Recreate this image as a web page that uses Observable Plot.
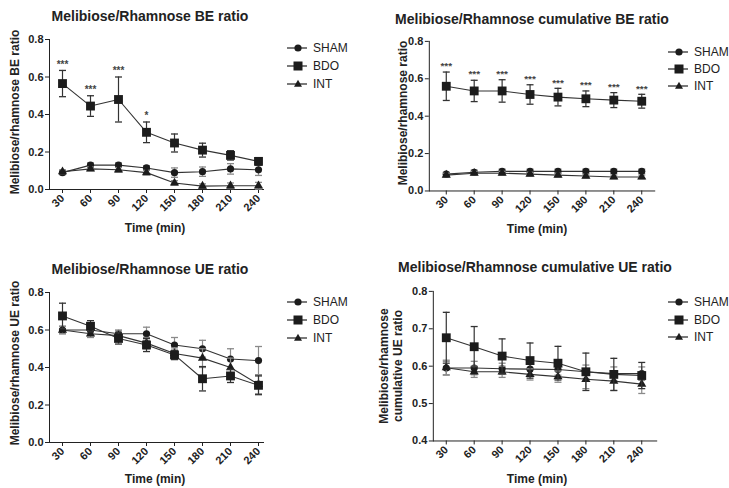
<!DOCTYPE html>
<html><head><meta charset="utf-8">
<script src="https://cdn.jsdelivr.net/npm/d3@7"></script>
<script src="https://cdn.jsdelivr.net/npm/@observablehq/plot@0.6"></script>
<style>
body{margin:0;background:#fff;}
#root{position:relative;width:729px;height:488px;overflow:hidden;font-family:"Liberation Sans",Arial,sans-serif;color:#222;}
.abs{position:absolute;white-space:nowrap;}
.title{font-weight:bold;font-size:14px;transform:translate(-50%,-50%);}
.xlab{font-weight:bold;font-size:12px;transform:translate(-50%,-50%);}
.ylab{font-weight:bold;font-size:12px;line-height:14px;text-align:center;transform:translate(-50%,-50%) rotate(-90deg);}
.leg{font-size:12px;display:flex;align-items:center;transform:translateY(-50%);}
.leg svg{margin-right:6px;}
</style>
</head><body><div id="root"></div>
<script>
// ---- data ----
const times = ["30","60","90","120","150","180","210","240"];
const groups = ["SHAM","BDO","INT"];

// Melibiose/Rhamnose BE ratio
const beSham    = [0.090,0.130,0.130,0.115,0.090,0.095,0.110,0.105];
const beShamSem = [0.010,0.012,0.012,0.012,0.025,0.025,0.028,0.030];
const beBdo     = [0.565,0.445,0.480,0.305,0.248,0.210,0.182,0.150];
const beBdoSem  = [0.070,0.055,0.120,0.055,0.048,0.037,0.025,0.020];
const beInt     = [0.095,0.110,0.105,0.090,0.035,0.018,0.020,0.020];
const beIntSem  = [0.010,0.010,0.012,0.012,0.012,0.012,0.015,0.018];
const beStars   = ["***","***","***","*","","","",""];

// Melibiose/Rhamnose cumulative BE ratio
const cbeSham    = [0.090,0.100,0.105,0.105,0.105,0.105,0.105,0.105];
const cbeShamSem = [0.010,0.012,0.012,0.012,0.012,0.012,0.012,0.012];
const cbeBdo     = [0.560,0.535,0.535,0.516,0.502,0.493,0.486,0.480];
const cbeBdoSem  = [0.076,0.057,0.060,0.052,0.047,0.042,0.040,0.037];
const cbeInt     = [0.085,0.095,0.095,0.090,0.085,0.080,0.075,0.075];
const cbeIntSem  = [0.010,0.010,0.010,0.010,0.010,0.010,0.010,0.010];
const cbeStars   = ["***","***","***","***","***","***","***","***"];

// Melibiose/Rhamnose UE ratio
const ueSham    = [0.600,0.600,0.580,0.580,0.520,0.500,0.445,0.437];
const ueShamSem = [0.020,0.030,0.020,0.035,0.040,0.045,0.055,0.075];
const ueBdo     = [0.675,0.620,0.555,0.520,0.467,0.340,0.355,0.305];
const ueBdoSem  = [0.068,0.030,0.030,0.035,0.025,0.065,0.035,0.050];
const ueInt     = [0.600,0.580,0.570,0.530,0.475,0.450,0.400,0.310];
const ueIntSem  = [0.020,0.020,0.025,0.030,0.030,0.050,0.050,0.050];
const ueStars   = ["","","","","","","",""];

// Melibiose/Rhamnose cumulative UE ratio
const cueSham    = [0.595,0.595,0.593,0.592,0.591,0.585,0.580,0.580];
const cueShamSem = [0.018,0.018,0.015,0.015,0.015,0.018,0.018,0.018];
const cueBdo     = [0.676,0.652,0.627,0.615,0.608,0.585,0.578,0.575];
const cueBdoSem  = [0.068,0.054,0.046,0.047,0.045,0.050,0.043,0.035];
const cueInt     = [0.596,0.585,0.585,0.578,0.572,0.565,0.560,0.552];
const cueIntSem  = [0.020,0.015,0.015,0.015,0.015,0.025,0.025,0.025];
const cueStars   = ["","","","","","","",""];

// ---- layout ----
const panels = [
  {title:"Melibiose/Rhamnose BE ratio", ylab:["Melibiose/rhamnose BE ratio"], yDomain:[0,0.8],
   series:[[beSham,beShamSem],[beBdo,beBdoSem],[beInt,beIntSem]], stars:beStars,
   left:0, top:0, fx0:49, fx1:263, fy0:39, fy1:189, x30:62, x240:258,
   tpos:[150,16], xpos:[155,228], ypos:[15,112], lx:287, ly:[48,66,84]},
  {title:"Melibiose/Rhamnose cumulative BE ratio", ylab:["Melibiose/rhamnose ratio"], yDomain:[0,0.8],
   series:[[cbeSham,cbeShamSem],[cbeBdo,cbeBdoSem],[cbeInt,cbeIntSem]], stars:cbeStars,
   left:365, top:0, fx0:429, fx1:655, fy0:41, fy1:191, x30:445, x240:642,
   tpos:[532,19], xpos:[537,229], ypos:[403,113], lx:668, ly:[52,69,86]},
  {title:"Melibiose/Rhamnose UE ratio", ylab:["Melibiose/rhamnose UE ratio"], yDomain:[0,0.8],
   series:[[ueSham,ueShamSem],[ueBdo,ueBdoSem],[ueInt,ueIntSem]], stars:ueStars,
   left:0, top:250, fx0:49, fx1:263, fy0:292, fy1:442, x30:62, x240:258,
   tpos:[150,269], xpos:[155,479], ypos:[15,363], lx:287, ly:[302,320,338]},
  {title:"Melibiose/Rhamnose cumulative UE ratio", ylab:["Melibiose/rhamnose","cumulative UE ratio"], yDomain:[0.4,0.8],
   series:[[cueSham,cueShamSem],[cueBdo,cueBdoSem],[cueInt,cueIntSem]], stars:cueStars,
   left:365, top:250, fx0:433, fx1:657, fy0:291, fy1:441, x30:446, x240:643,
   tpos:[535,267], xpos:[537,479], ypos:[391,366], lx:668, ly:[302,320,337]}
];

const symbols = {SHAM:"circle", BDO:"square", INT:"triangle"};
const radius = {SHAM:3.6, BDO:5.0, INT:3.4};
const capSymbol = {draw(ctx, size){ const w = Math.sqrt(size/Math.PI); ctx.moveTo(-w,0); ctx.lineTo(w,0); }};
const ink = "#1c1c1c";

const root = document.getElementById("root");
function addDiv(cls, x, y, html){
  const d = document.createElement("div");
  d.className = "abs " + cls;
  d.style.left = x + "px"; d.style.top = y + "px";
  d.innerHTML = html;
  root.appendChild(d);
  return d;
}

for (const p of panels) {
  const W = 365, H = 245;
  const rows = [];
  groups.forEach((g, gi) => {
    const [m, s] = p.series[gi];
    times.forEach((t, i) => rows.push({t, group:g, mean:m[i], lo:m[i]-s[i], hi:m[i]+s[i]}));
  });
  const starRows = times.map((t, i) => ({t, y: p.series[1][0][i] + p.series[1][1][i], s: p.stars[i]})).filter(d => d.s);
  const step = (p.x240 - p.x30) / 7, total = p.fx1 - p.fx0;
  const pad = (total / step - 7) / 2;
  const align = (p.x30 - p.fx0) / (total - 7 * step);
  const marks = [];
  for (const g of ["SHAM","INT","BDO"]) {
    const d = rows.filter(r => r.group === g);
    const ec = g === "BDO" ? "#333" : "#8a8a8a";
    marks.push(Plot.ruleX(d, {x:"t", y1:"lo", y2:"hi", stroke:ec, strokeWidth:1.2}));
    marks.push(Plot.dot(d, {x:"t", y:"hi", symbol:capSymbol, r:3.5, fill:"none", stroke:ec, strokeWidth:1.3}));
    marks.push(Plot.dot(d, {x:"t", y:"lo", symbol:capSymbol, r:3.5, fill:"none", stroke:ec, strokeWidth:1.3}));
    marks.push(Plot.line(d, {x:"t", y:"mean", stroke:"#333", strokeWidth:1.1}));
    marks.push(Plot.dot(d, {x:"t", y:"mean", symbol:symbols[g], r:radius[g], fill:ink, stroke:"none"}));
  }
  marks.push(Plot.text(starRows, {x:"t", y:"y", text:"s", dy:-6, fontSize:10, fill:"#444", fontWeight:"bold"}));
  const chart = Plot.plot({
    width: W, height: H,
    marginLeft: p.fx0 - p.left, marginRight: p.left + W - p.fx1,
    marginTop: p.fy0 - p.top, marginBottom: p.top + H - p.fy1,
    style: {fontFamily:"'Liberation Sans', Arial, sans-serif", fontSize:"11px", fontWeight:"bold", color:"#222", background:"transparent", overflow:"visible"},
    x: {type:"point", domain: times, padding: pad, align: align, line:true, tickRotate:-45, tickSize:4, tickPadding:3, label:null},
    y: {domain: p.yDomain, ticks:4, tickFormat: d3.format(".1f"), line:true, tickSize:4, tickPadding:2, label:null},
    marks
  });
  const holder = document.createElement("div");
  holder.className = "abs";
  holder.style.left = p.left + "px"; holder.style.top = p.top + "px";
  holder.appendChild(chart);
  root.appendChild(holder);

  addDiv("title", p.tpos[0], p.tpos[1], p.title);
  addDiv("xlab", p.xpos[0], p.xpos[1], "Time (min)");
  addDiv("ylab", p.ypos[0], p.ypos[1], p.ylab.join("<br>"));
  groups.forEach((g, gi) => {
    const shape = g === "SHAM" ? '<circle cx="11" cy="6" r="3.6" fill="'+ink+'"/>'
      : g === "BDO" ? '<rect x="6.5" y="1.5" width="9" height="9" fill="'+ink+'"/>'
      : '<path d="M11,1.8 L15,8.8 L7,8.8 Z" fill="'+ink+'"/>';
    addDiv("leg", p.lx, p.ly[gi],
      '<svg width="20" height="12"><line x1="0" y1="6" x2="20" y2="6" stroke="#333" stroke-width="1.3"/>' + shape + '</svg><span>' + g + '</span>');
  });
}
</script>
</body></html>
